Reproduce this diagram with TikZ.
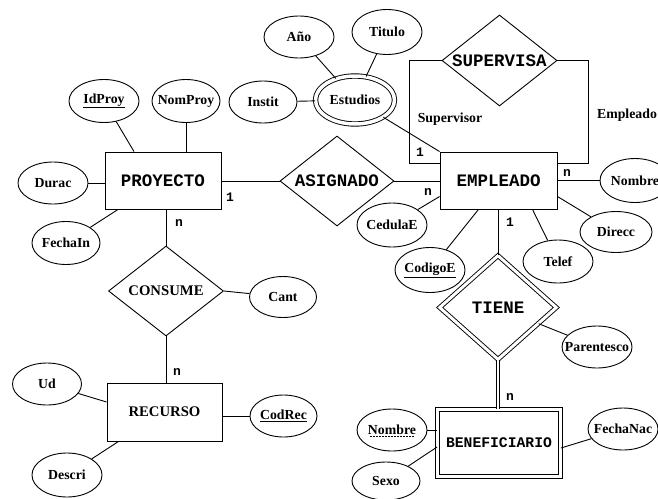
\documentclass[tikz,border=0pt]{standalone}
\usepackage{fontspec}
\setmainfont{Liberation Serif}
\newfontfamily\entfont{Liberation Mono}
\usetikzlibrary{shapes.geometric}
\newcommand\zb[1]{\makebox[0pt]{#1}}
\begin{document}
\begin{tikzpicture}[x=1pt,y=-1pt, line width=0.9pt,
 attr/.style={ellipse, draw, inner sep=0pt, minimum width=70pt, minimum height=42pt, font=\fontsize{13.8}{15}\selectfont\bfseries},
 ent/.style={rectangle, draw, inner sep=0pt, font=\entfont\fontsize{17.5}{19}\selectfont\bfseries},
 rel/.style={diamond, draw, inner sep=0pt, font=\entfont\fontsize{17.5}{19}\selectfont\bfseries},
 card/.style={font=\entfont\fontsize{13}{14}\selectfont\bfseries, inner sep=0pt},
 role/.style={font=\fontsize{13.8}{15}\selectfont\bfseries, inner sep=0pt}]
\path[fill=white, use as bounding box] (0,0) rectangle (658,498);

% entities
\node[ent, minimum width=116pt, minimum height=57pt] (proy) at (163,180.5) {PROYECTO};
\node[ent, minimum width=117pt, minimum height=57pt] (emp) at (498.5,180.5) {EMPLEADO};
\node[ent, font=\fontsize{14.7}{16}\selectfont\bfseries, minimum width=115pt, minimum height=58pt] (rec) at (164.5,412) {RECURSO};
\node[ent, double, double distance=3.5pt, font=\entfont\fontsize{14.7}{16}\selectfont\bfseries, minimum width=123pt, minimum height=67pt] (benef) at (499,443) {BENEFICIARIO};

% relationships
\node[rel, minimum width=115pt, minimum height=91pt] (sup) at (499.5,60.5) {\zb{SUPERVISA}};
\node[rel, minimum width=114pt, minimum height=90pt] (asig) at (337,181) {\zb{ASIGNADO}};
\node[rel, font=\fontsize{14.7}{16}\selectfont\bfseries, minimum width=115pt, minimum height=90pt] (cons) at (166,291) {\zb{CONSUME}};
\node[rel, double, double distance=3pt, minimum width=117pt, minimum height=104pt] (tiene) at (498,307.5) {\zb{TIENE}};

% attributes
\node[attr] (anio) at (299,37) {\zb{Año}};
\node[attr, minimum height=45pt] (titulo) at (387,32) {\zb{Titulo}};
\node[attr, minimum height=43pt] (idproy) at (104,101) {\zb{\underline{IdProy}}};
\node[attr, minimum width=68pt, minimum height=43pt] (nomproy) at (186,101) {\zb{NomProy}};
\node[attr, minimum width=68pt] (instit) at (263,102) {\zb{Instit}};
\node[attr, double, double distance=3.5pt, minimum width=79pt, minimum height=48pt] (estud) at (355,100) {\zb{Estudios}};
\node[attr] (durac) at (53,183) {\zb{Durac}};
\node[attr, minimum width=68pt, minimum height=43pt] (fechain) at (66,243) {\zb{FechaIn}};
\node[attr, minimum width=67pt, minimum height=41pt] (cant) at (283,297) {\zb{Cant}};
\node[attr, minimum width=69pt] (ud) at (47,384) {\zb{Ud}};
\node[attr, minimum width=67pt] (codrec) at (283.5,416) {\zb{\underline{CodRec}}};
\node[attr, minimum height=44pt] (descri) at (67,475) {\zb{Descri}};
\node[attr, minimum height=44pt] (cedula) at (392,225) {\zb{CedulaE}};
\node[attr, minimum height=44pt] (nombre) at (635,180.5) {\zb{Nombre}};
\node[attr, minimum width=72pt, minimum height=41pt] (direcc) at (616,232) {\zb{Direcc}};
\node[attr, minimum height=45pt] (codigo) at (430,270) {\zb{\underline{CodigoE}}};
\node[attr, minimum height=43pt] (telef) at (558,261.5) {\zb{Telef}};
\node[attr] (parent) at (597,347) {\zb{Parentesco}};
\node[attr] (nombre2) at (392,430) {\zb{Nombre}};
\node[attr, minimum width=68pt, minimum height=38pt] (sexo) at (386,481) {\zb{Sexo}};
\node[attr] (fechanac) at (623,429) {\zb{FechaNac}};
\draw[dashed, line width=0.7pt, dash pattern=on 1.5pt off 1.5pt] ([xshift=-22pt,yshift=-6.5pt]nombre2.center) -- ([xshift=22pt,yshift=-6.5pt]nombre2.center);

% connectors
\draw (idproy) -- ([xshift=-29pt]proy.north);
\draw (nomproy) -- (nomproy |- proy.north);
\draw (durac) -- (durac -| proy.west);
\draw (fechain) -- ([xshift=-45pt]proy.south);
\draw (asig.west) -- (asig.west -| proy.east);
\draw (asig.east) -- (asig.east -| emp.west);
\draw (cons.north) -- (cons.north |- proy.south);
\draw (cons.south) -- (cons.south |- rec.north);
\draw (cons.east) -- (cant);
\draw (ud) -- ([yshift=10pt]rec.west);
\draw (codrec) -- (codrec -| rec.east);
\draw (descri) -- ([xshift=-46pt]rec.south);
\draw (instit) -- (estud);
\draw (anio) -- (estud);
\draw (titulo) -- (estud);
\draw (estud) -- (emp.north west);
\coordinate (supL) at (409,163);
\coordinate (supR) at (588,163);
\draw (sup.west) -| (supL) -- (supL -| emp.west);
\draw (sup.east) -| (supR) -- (supR -| emp.east);
\draw (nombre) -- (nombre -| emp.east);
\draw (direcc) -- ([yshift=-16pt]emp.east);
\draw (cedula) -- ([yshift=-16pt]emp.west);
\draw (codigo) -- ([xshift=-20pt]emp.south);
\draw (telef) -- ([xshift=34pt]emp.south);
\draw (tiene.north) -- (tiene.north |- emp.south);
\draw[double, double distance=2pt] (tiene.south) -- (tiene.south |- benef.north);
\draw (parent) -- (tiene);
\draw (nombre2) -- (nombre2 -| benef.west);
\draw (sexo) -- ([yshift=-4pt]benef.west);
\draw (fechanac) -- ([yshift=-5pt]benef.east);

% cardinalities and roles
\node[card] (c1) at (230,197) {1};
\node[card] (c2) at (179,223) {n};
\node[card] (c3) at (177,372) {n};
\node[card] (c4) at (420,152) {1};
\node[card] (c5) at (428,192) {n};
\node[card] (c6) at (567,173) {n};
\node[card] (c7) at (510,222) {1};
\node[card] (c8) at (510,397) {n};
\node[role] (lsup) at (450,119) {Supervisor};
\node[role] (lemp) at (627,115) {Empleado};
\end{tikzpicture}
\end{document}
